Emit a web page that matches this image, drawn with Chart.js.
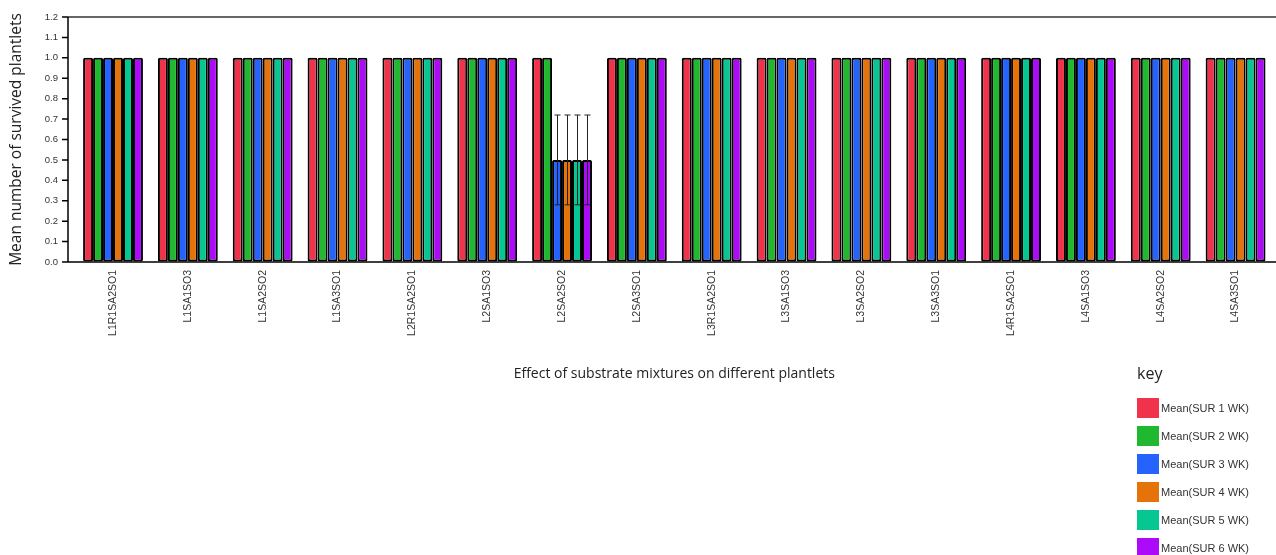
<!DOCTYPE html>
<html>
<head>
<meta charset="utf-8">
<script src="https://cdn.jsdelivr.net/npm/chart.js@4.4.1/dist/chart.umd.min.js"></script>
<style>
  body { margin: 0; background: #fff; width: 1276px; height: 555px; position: relative; overflow: hidden; }
  #chart { position: absolute; left: 0; top: 0; }
  #key { position: absolute; left: 1137px; top: 362px; font-family: "Open Sans", sans-serif; }
  #key .title { font-size: 16px; color: #222; margin-bottom: 10px; }
  #key .item { display: flex; align-items: center; height: 28px; font-family: "Liberation Sans", Arial, sans-serif; font-size: 11px; color: #333; }
  #key .sw { width: 22px; height: 20px; margin-right: 2px; }
</style>
</head>
<body>
<canvas id="chart"></canvas>
<div id="key"><div class="title">key</div></div>
<script>
const categories = ['L1R1SA2SO1', 'L1SA1SO3', 'L1SA2SO2', 'L1SA3SO1', 'L2R1SA2SO1', 'L2SA1SO3', 'L2SA2SO2', 'L2SA3SO1',
  'L3R1SA2SO1', 'L3SA1SO3', 'L3SA2SO2', 'L3SA3SO1', 'L4R1SA2SO1', 'L4SA1SO3', 'L4SA2SO2', 'L4SA3SO1'];
const seriesNames = ['Mean(SUR 1 WK)', 'Mean(SUR 2 WK)', 'Mean(SUR 3 WK)', 'Mean(SUR 4 WK)', 'Mean(SUR 5 WK)', 'Mean(SUR 6 WK)'];
const seriesColors = ['#F0334B', '#1FB82E', '#2563FF', '#E6720A', '#06C792', '#AD0AF9'];

const sur1 = [1, 1, 1, 1, 1, 1, 1, 1, 1, 1, 1, 1, 1, 1, 1, 1];
const sur2 = [1, 1, 1, 1, 1, 1, 1, 1, 1, 1, 1, 1, 1, 1, 1, 1];
const sur3 = [1, 1, 1, 1, 1, 1, 0.5, 1, 1, 1, 1, 1, 1, 1, 1, 1];
const sur4 = [1, 1, 1, 1, 1, 1, 0.5, 1, 1, 1, 1, 1, 1, 1, 1, 1];
const sur5 = [1, 1, 1, 1, 1, 1, 0.5, 1, 1, 1, 1, 1, 1, 1, 1, 1];
const sur6 = [1, 1, 1, 1, 1, 1, 0.5, 1, 1, 1, 1, 1, 1, 1, 1, 1];
// standard error, only the L2SA2SO2 weeks 3-6 have one
const err3 = [0, 0, 0, 0, 0, 0, 0.22, 0, 0, 0, 0, 0, 0, 0, 0, 0];
const err4 = [0, 0, 0, 0, 0, 0, 0.22, 0, 0, 0, 0, 0, 0, 0, 0, 0];
const err5 = [0, 0, 0, 0, 0, 0, 0.22, 0, 0, 0, 0, 0, 0, 0, 0, 0];
const err6 = [0, 0, 0, 0, 0, 0, 0.22, 0, 0, 0, 0, 0, 0, 0, 0, 0];

const values = [sur1, sur2, sur3, sur4, sur5, sur6];
const errors = [null, null, err3, err4, err5, err6];

// legend as html
const key = document.getElementById('key');
seriesNames.forEach((name, i) => {
  key.insertAdjacentHTML('beforeend',
    `<div class="item"><span class="sw" style="background:${seriesColors[i]}"></span>${name}</div>`);
});

const axesPlugin = {
  id: 'axesLines',
  afterDraw(chart) {
    const ctx = chart.ctx;
    const y = chart.scales.y;
    const axisX = 68;
    ctx.save();
    ctx.strokeStyle = '#666';
    ctx.lineWidth = 2;
    ctx.beginPath();
    ctx.moveTo(axisX, chart.chartArea.top);
    ctx.lineTo(1276, chart.chartArea.top);
    ctx.stroke();
    ctx.strokeStyle = '#000';
    ctx.lineWidth = 1.5;
    ctx.beginPath();
    ctx.moveTo(axisX, chart.chartArea.top);
    ctx.lineTo(axisX, chart.chartArea.bottom);
    ctx.lineTo(1276, chart.chartArea.bottom);
    y.ticks.forEach(t => {
      const py = y.getPixelForValue(t.value);
      ctx.moveTo(axisX - 6, py);
      ctx.lineTo(axisX, py);
    });
    ctx.stroke();
    ctx.restore();
  }
};

const errorBarPlugin = {
  id: 'errorBars',
  afterDatasetsDraw(chart) {
    const ctx = chart.ctx;
    const y = chart.scales.y;
    ctx.save();
    ctx.strokeStyle = '#222';
    ctx.lineWidth = 1;
    errors.forEach((errs, di) => {
      if (!errs) return;
      const meta = chart.getDatasetMeta(di);
      errs.forEach((e, i) => {
        if (!e) return;
        const bar = meta.data[i];
        const v = values[di][i];
        const top = y.getPixelForValue(v + e);
        const bot = y.getPixelForValue(v - e);
        const x = Math.round(bar.x) + 0.5;
        ctx.beginPath();
        ctx.moveTo(x, top);
        ctx.lineTo(x, bot);
        ctx.moveTo(x - 3, top);
        ctx.lineTo(x + 3, top);
        ctx.moveTo(x - 3, bot);
        ctx.lineTo(x + 3, bot);
        ctx.stroke();
      });
    });
    ctx.restore();
  }
};

const canvas = document.getElementById('chart');
canvas.width = 1276;
canvas.height = 390;

new Chart(canvas.getContext('2d'), {
  type: 'bar',
  data: {
    labels: categories,
    datasets: values.map((v, i) => ({
      label: seriesNames[i],
      data: v,
      backgroundColor: seriesColors[i],
      borderColor: '#000',
      borderWidth: 2,
      borderRadius: 1.5,
      borderSkipped: false,
      categoryPercentage: 0.8,
      barPercentage: 1.0
    }))
  },
  options: {
    responsive: false,
    animation: false,
    layout: { padding: { left: 0, right: 3, top: 17, bottom: 0 } },
    plugins: {
      legend: { display: false },
      tooltip: { enabled: false }
    },
    scales: {
      x: {
        grid: { display: false },
        border: { display: false },
        ticks: {
          autoSkip: false,
          minRotation: 90,
          maxRotation: 90,
          padding: 0,
          color: '#333',
          font: { family: 'Liberation Sans', size: 10.5 }
        },
        title: {
          display: true,
          text: 'Effect of substrate mixtures on different plantlets',
          color: '#222',
          font: { family: 'Open Sans', size: 14 },
          padding: { top: 0, bottom: 8 }
        },
        afterFit(scale) { scale.height = 128; }
      },
      y: {
        min: 0,
        max: 1.2,
        // invisible tick marks push the labels left; the real axis is drawn by axesPlugin
        grid: { display: true, drawOnChartArea: false, drawTicks: true, tickLength: 17.6, tickColor: 'rgba(0,0,0,0)' },
        border: { display: false },
        ticks: {
          stepSize: 0.1,
          padding: 0,
          color: '#333',
          font: { family: 'Liberation Sans', size: 9.5 },
          callback: v => v.toFixed(1)
        },
        title: {
          display: true,
          text: 'Mean number of survived plantlets',
          color: '#222',
          font: { family: 'Open Sans', size: 15.5 },
          padding: { top: 7, bottom: 0 }
        },
        afterFit(scale) { scale.width = 75.6; }
      }
    }
  },
  plugins: [axesPlugin, errorBarPlugin]
});
</script>
</body>
</html>
